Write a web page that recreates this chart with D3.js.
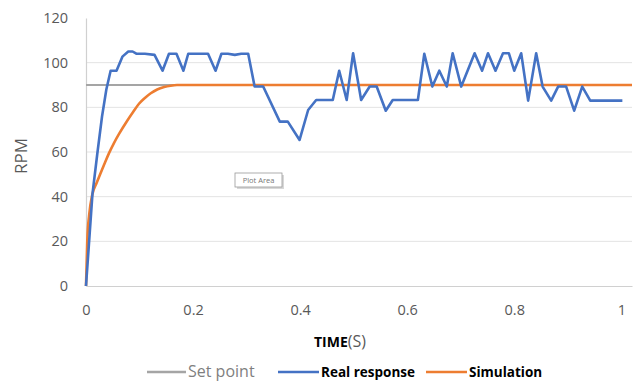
<!DOCTYPE html>
<html>
<head>
<meta charset="utf-8">
<script src="https://cdn.jsdelivr.net/npm/d3@7"></script>
<style>
  html, body { margin: 0; padding: 0; background: #fff; }
  svg { display: block; }
</style>
</head>
<body>
<svg id="chart" width="641" height="383"></svg>
<script>
// ---- data ----
const xTicks = [0, 0.2, 0.4, 0.6, 0.8, 1];
const yTicks = [0, 20, 40, 60, 80, 100, 120];

const setPointTime = [0, 1.02];
const setPointRpm = [90, 90];

const realTime = [0, 0.012, 0.021, 0.030, 0.038, 0.046, 0.057, 0.068, 0.079, 0.087, 0.094, 0.110, 0.128, 0.143, 0.155, 0.169, 0.182, 0.191, 0.228, 0.242, 0.253, 0.265, 0.278, 0.290, 0.303, 0.315, 0.331, 0.362, 0.377, 0.399, 0.415, 0.430, 0.461, 0.473, 0.487, 0.499, 0.514, 0.530, 0.543, 0.560, 0.573, 0.620, 0.632, 0.647, 0.660, 0.674, 0.685, 0.701, 0.726, 0.740, 0.751, 0.765, 0.779, 0.790, 0.800, 0.813, 0.826, 0.841, 0.853, 0.869, 0.882, 0.897, 0.912, 0.927, 0.942, 1.002];
const realRpm = [0, 41, 59, 76, 88, 96.4, 96.4, 102.7, 105, 105, 104, 104, 103.5, 96.4, 104, 104, 96.4, 104, 104, 96.4, 104, 104, 103.5, 104, 104, 89.3, 89.3, 73.6, 73.6, 65.4, 78.8, 83.3, 83.3, 96.4, 83.3, 104.2, 83.3, 89.3, 89.3, 78.5, 83.3, 83.3, 104, 89.3, 96.4, 89.3, 104.2, 89.3, 104.2, 96.4, 104.2, 96.4, 104.2, 104.2, 96.4, 104.2, 83, 104.2, 89.3, 83, 89.3, 89.3, 78.5, 89.3, 83, 83];

const simTime = [0, 0.0025, 0.006, 0.0118, 0.02, 0.027, 0.035, 0.043, 0.052, 0.062, 0.077, 0.088, 0.099, 0.11, 0.121, 0.133, 0.146, 0.158, 0.17, 0.2, 0.3, 0.5, 0.7, 0.9, 1.02];
const simRpm = [0, 21, 32, 41, 46.2, 50.4, 55, 59.5, 63.9, 68.2, 74, 77.9, 81.6, 84.2, 86.3, 88, 89.1, 89.7, 90, 90, 90, 90, 90, 90, 90];

const legendLabels = ["Set point", "Real response", "Simulation"];
const colors = { set: "#A5A5A5", real: "#4472C4", sim: "#ED7D31" };

// ---- layout ----
const svg = d3.select("#chart");
const padL = 86, padR = 632, padT = 18, padB = 286;
const x = d3.scaleLinear().domain([0, 1.02]).range([padL, padR]);
const y = d3.scaleLinear().domain([0, 120]).range([padB, padT]);
const font = "'Open Sans', 'Liberation Sans', sans-serif";

// gridlines
svg.append("g")
  .selectAll("line")
  .data(yTicks.filter(d => d > 0 && d < 120))
  .join("line")
  .attr("x1", padL).attr("x2", padR)
  .attr("y1", d => y(d)).attr("y2", d => y(d))
  .attr("stroke", "#E3E3E3").attr("stroke-width", 1);

// axes
const xAxis = d3.axisBottom(x).tickValues(xTicks).tickSize(0).tickPadding(19)
  .tickFormat(d => d3.format("~g")(d));
const gx = svg.append("g").attr("transform", `translate(0,${padB})`).call(xAxis);
gx.select(".domain").attr("stroke", "#D0D0D0").attr("stroke-width", 1.2);
gx.selectAll("text").attr("font-family", font).attr("font-size", 14.5).attr("fill", "#595959");

const yAxis = d3.axisLeft(y).tickValues(yTicks).tickSize(0).tickPadding(18);
const gy = svg.append("g").attr("transform", `translate(${padL},0)`).call(yAxis);
gy.select(".domain").attr("stroke", "#D0D0D0").attr("stroke-width", 1.2);
gy.selectAll("text").attr("font-family", font).attr("font-size", 14.5).attr("fill", "#595959");

// lines
const line = d3.line().x(d => x(d[0])).y(d => y(d[1]));
const smooth = d3.line().x(d => x(d[0])).y(d => y(d[1])).curve(d3.curveMonotoneX);
const zip = (a, b) => a.map((v, i) => [v, b[i]]);

svg.append("path").datum(zip(setPointTime, setPointRpm))
  .attr("d", line).attr("fill", "none").attr("stroke", colors.set).attr("stroke-width", 2.2);
svg.append("path").datum(zip(simTime, simRpm))
  .attr("d", smooth).attr("fill", "none").attr("stroke", colors.sim).attr("stroke-width", 2.6)
  .attr("stroke-linejoin", "round");
svg.append("path").datum(zip(realTime, realRpm))
  .attr("d", line).attr("fill", "none").attr("stroke", colors.real).attr("stroke-width", 2.6)
  .attr("stroke-linejoin", "round");

// axis titles
svg.append("text")
  .attr("transform", `translate(27,${(padT + padB) / 2 + 4}) rotate(-90)`)
  .attr("text-anchor", "middle")
  .attr("font-family", font).attr("font-size", 17).attr("fill", "#595959")
  .text("RPM");

const xt = svg.append("text")
  .attr("x", 340).attr("y", 347)
  .attr("text-anchor", "middle")
  .attr("font-family", font).attr("font-size", 14).attr("fill", "#000");
xt.append("tspan").attr("font-weight", "bold").attr("font-size", 14).text("TIME");
xt.append("tspan").attr("fill", "#595959").attr("font-size", 16).text("(S)");

// "Plot Area" tooltip
const tip = svg.append("g").attr("transform", "translate(235,173)");
tip.append("rect").attr("x", 2).attr("y", 2).attr("width", 47).attr("height", 14).attr("fill", "#D8D8D8");
tip.append("rect").attr("x", 0).attr("y", 0).attr("width", 47).attr("height", 14)
  .attr("fill", "#fff").attr("stroke", "#9A9A9A").attr("stroke-width", 0.8);
tip.append("text").attr("x", 23.5).attr("y", 10).attr("text-anchor", "middle")
  .attr("font-family", font).attr("font-size", 7.5).attr("fill", "#777").text("Plot Area");

// legend
const legendItems = [
  { label: legendLabels[0], color: colors.set, x0: 147, x1: 186, weight: "normal", fill: "#7F7F7F", size: 16 },
  { label: legendLabels[1], color: colors.real, x0: 278, x1: 319, weight: "bold", fill: "#000", size: 13.5 },
  { label: legendLabels[2], color: colors.sim, x0: 426, x1: 467, weight: "bold", fill: "#000", size: 13.5 }
];
const lg = svg.append("g").selectAll("g").data(legendItems).join("g");
lg.append("line")
  .attr("x1", d => d.x0).attr("x2", d => d.x1)
  .attr("y1", 372).attr("y2", 372)
  .attr("stroke", d => d.color).attr("stroke-width", 2.6);
lg.append("text")
  .attr("x", d => d.x1 + 2).attr("y", 377)
  .attr("font-family", font).attr("font-size", d => d.size)
  .attr("font-weight", d => d.weight).attr("fill", d => d.fill)
  .text(d => d.label);
</script>
</body>
</html>
